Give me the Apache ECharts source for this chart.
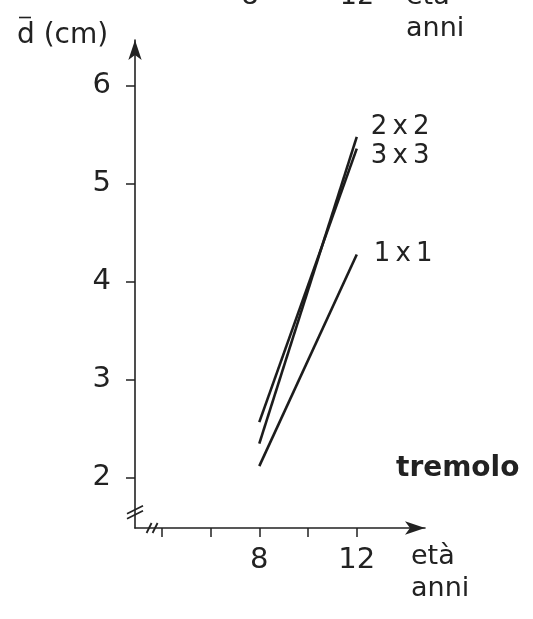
<!DOCTYPE html>
<html><head><meta charset="utf-8">
<script src="https://cdn.jsdelivr.net/npm/echarts@6/dist/echarts.min.js"></script>
<style>html,body{margin:0;padding:0;background:#fff}#c{width:533px;height:619px}</style>
</head><body><div id="c"></div>
<script>
// ---- data ----
const ages = [8, 12];
const d1x1 = [2.12, 4.28];
const d2x2 = [2.35, 5.48];
const d3x3 = [2.57, 5.36];
const seriesNames = ['1\u2009x\u20091', '2\u2009x\u20092', '3\u2009x\u20093'];
const xTickValues = [4, 6, 8, 10, 12];
const xLabelValues = [8, 12];
const yTickValues = [2, 3, 4, 5, 6];
const yLabelValues = [2, 3, 4, 5, 6];

const FONT = '"DejaVu Sans", sans-serif';
const INK = '#222';
const chart = echarts.init(document.getElementById('c'));

function mk(name, vals, labelOffset, dist) {
  const data = ages.map((a, i) => [a, vals[i]]);
  return {
    type: 'line', name: name, data: data, symbol: 'none', silent: true,
    lineStyle: { color: '#1c1c1c', width: 2.6 },
    endLabel: { show: true, formatter: '{a}', color: INK, fontFamily: FONT, fontSize: 26,
      distance: dist, offset: labelOffset },
    animation: false
  };
}

const option = {
  animation: false,
  backgroundColor: '#fff',
  grid: { left: 135, right: 108, top: 40, bottom: 91 },
  xAxis: {
    type: 'value', min: 2.9, max: 14.8,
    axisLine: { onZero: false, lineStyle: { color: INK, width: 1.6 }, symbol: ['none', 'arrow'], symbolSize: [10, 20] },
    axisTick: { customValues: xTickValues, length: 9, lineStyle: { color: INK, width: 1.5 } },
    axisLabel: { customValues: xLabelValues, color: INK, fontFamily: FONT, fontSize: 29, margin: 18 },
    splitLine: { show: false }
  },
  yAxis: {
    type: 'value', min: 1.489, max: 6.469,
    axisLine: { onZero: false, lineStyle: { color: INK, width: 1.6 }, symbol: ['none', 'arrow'], symbolSize: [10, 20] },
    axisTick: { customValues: yTickValues, length: 9, lineStyle: { color: INK, width: 1.5 } },
    axisLabel: { customValues: yLabelValues, color: INK, fontFamily: FONT, fontSize: 29, margin: 24 },
    splitLine: { show: false }
  },
  series: [
    mk(seriesNames[0], d1x1, [0, 0], 17),
    mk(seriesNames[1], d2x2, [0, -10], 14),
    mk(seriesNames[2], d3x3, [0, 8], 14)
  ]
};
chart.setOption(option);

function txt(text, x, y, opts) {
  return Object.assign({ type: 'text', silent: true, style: Object.assign({
    text: text, x: x, y: y, fill: INK, font: '27px ' + FONT, textAlign: 'left', textVerticalAlign: 'middle'
  }, opts || {}) });
}
function seg(x1, y1, x2, y2, w) {
  return { type: 'line', silent: true, shape: { x1, y1, x2, y2 }, style: { stroke: INK, lineWidth: w || 1.8 } };
}

// axis break marks, positioned from the axes
const yMin = option.yAxis.min, xMin = option.xAxis.min;
const yb = chart.convertToPixel({ gridIndex: 0 }, [xMin, 1.66]);
const xb = chart.convertToPixel({ gridIndex: 0 }, [3.6, yMin]);
const g = [];
// y-axis break
g.push({ type: 'polygon', silent: true, shape: { points: [[yb[0]-4, yb[1]+0.5], [yb[0]+4, yb[1]-3.5], [yb[0]+4, yb[1]+1.5], [yb[0]-4, yb[1]+5.5]] }, style: { fill: '#fff' } });
g.push(seg(yb[0]-8, yb[1]+2.5, yb[0]+8, yb[1]-5.5));
g.push(seg(yb[0]-8, yb[1]+7.5, yb[0]+8, yb[1]-0.5));
// x-axis break
g.push({ type: 'polygon', silent: true, shape: { points: [[xb[0]-3, xb[1]+2], [xb[0]-0.5, xb[1]-2], [xb[0]+2.5, xb[1]-2], [xb[0], xb[1]+2]] }, style: { fill: '#fff' } });
g.push(seg(xb[0]-5.5, xb[1]+5, xb[0]-0.5, xb[1]-5));
g.push(seg(xb[0]+0.5, xb[1]+5, xb[0]+5.5, xb[1]-5));

// texts
g.push(txt('d (cm)', 17, 36, { font: '28px ' + FONT }));
g.push(seg(19, 17.5, 31, 17.5, 1.6));
g.push(txt('8', 250, -3, { textAlign: 'center' }));
g.push(txt('12', 357, -3, { textAlign: 'center' }));
g.push(txt('età', 406, -3));
g.push(txt('anni', 406, 29));
g.push(txt('tremolo', 396, 469, { font: 'bold 28px ' + FONT }));
g.push(txt('età', 411, 557));
g.push(txt('anni', 411, 589));

chart.setOption({ graphic: g });
</script>
</body></html>
